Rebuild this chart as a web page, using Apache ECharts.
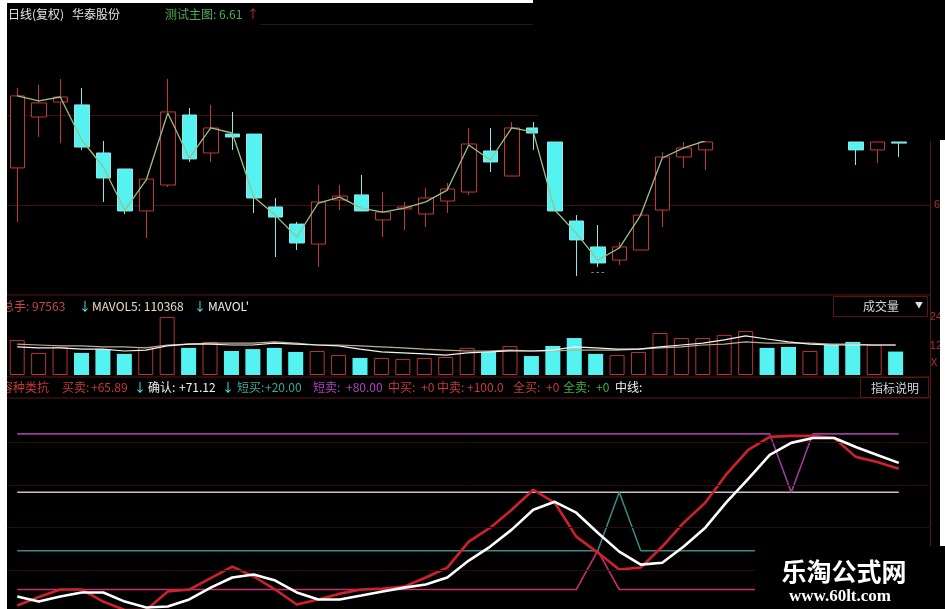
<!DOCTYPE html>
<html><head><meta charset="utf-8">
<script src="https://cdn.jsdelivr.net/npm/echarts@6/dist/echarts.min.js"></script>
<style>html,body{margin:0;padding:0;background:#000;}#c{width:945px;height:609px;}</style>
</head><body><div id="c"></div>
<script>
// ---------- DATA ----------
const days = ['D01','D02','D03','D04','D05','D06','D07','D08','D09','D10','D11','D12','D13','D14','D15','D16','D17','D18','D19','D20','D21','D22','D23','D24','D25','D26','D27','D28','D29','D30','D31','D32','D33','D34','D35','D36','D37','D38','D39','D40','D41','D42','D43'];
const openP  = [6.206,6.489,6.572,6.556,6.289,6.200,5.967,6.111,6.500,6.289,6.394,6.394,5.989,5.894,5.783,6.028,6.056,5.917,5.978,5.950,6.022,6.072,6.300,6.161,6.428,6.350,5.911,5.767,5.694,5.750,5.972,6.267,6.306,null,null,null,null,null,null,6.350,6.306,6.350];
const closeP = [6.606,6.567,6.600,6.322,6.150,5.967,6.144,6.517,6.256,6.428,6.378,6.039,5.933,5.789,6.017,6.050,5.967,5.961,5.989,6.039,6.089,6.339,6.239,6.428,6.400,5.967,5.806,5.678,5.767,5.944,6.267,6.317,6.350,null,null,null,null,null,null,6.306,6.350,6.344];
const lowP   = [5.906,6.378,6.344,6.306,6.017,5.950,5.817,6.100,6.239,6.239,6.306,5.956,5.711,5.750,5.656,5.972,5.967,5.822,5.861,5.878,5.956,6.056,6.183,6.161,6.306,5.967,5.606,5.656,5.667,5.750,5.878,6.206,6.194,null,null,null,null,null,null,6.222,6.233,6.267];
const highP  = [6.650,6.667,6.700,6.650,6.356,6.200,6.144,6.700,6.539,6.556,6.517,6.394,6.039,5.906,6.111,6.111,6.167,6.072,6.017,6.094,6.122,6.428,6.428,6.461,6.461,6.350,5.944,5.889,5.794,5.956,6.294,6.350,6.350,null,null,null,null,null,null,6.350,6.350,6.350];
const testLine = [6.606,6.578,6.600,6.361,6.211,5.972,6.139,6.511,6.261,6.428,6.400,6.044,5.944,5.822,6.011,6.044,5.983,5.961,5.983,6.017,6.083,6.333,6.250,6.428,6.406,5.972,5.844,5.694,5.761,5.944,6.261,6.317,6.356,null,null,null,null,null,null,null,null,null];

const volume = [14.6,9.2,11.7,9.2,10.8,8.8,11.7,24.2,11.3,13.8,10.0,10.8,11.3,9.6,10.0,8.3,7.1,7.1,6.7,7.1,7.5,11.3,9.6,12.1,7.9,12.1,15.4,8.8,8.3,9.6,17.5,15.4,15.4,16.7,18.3,11.3,11.7,10.0,12.5,13.8,12.5,9.76];
const volUp  = [1,1,1,0,0,0,1,1,0,1,0,0,0,0,1,1,0,1,1,1,1,1,0,1,0,0,0,0,1,1,1,1,1,1,1,0,0,1,0,0,1,0];
const mavol5  = [11.7,11.3,11.3,10.8,10.8,10.0,10.4,12.1,12.9,12.9,12.5,12.5,13.3,12.9,12.5,12.1,10.8,9.6,9.2,8.8,8.3,9.2,9.6,10.0,10.0,10.4,11.7,11.3,10.8,10.8,11.7,12.5,13.3,14.6,16.3,15.0,13.8,12.9,12.5,12.5,12.5,12.5];
const mavol10 = [12.9,12.5,12.1,12.1,11.7,11.7,11.3,12.5,12.9,13.3,13.3,13.3,13.8,13.3,12.5,12.5,12.1,11.7,11.3,10.8,10.4,10.0,10.0,10.4,10.0,10.0,10.4,10.4,10.4,10.8,11.3,11.7,12.5,12.9,13.8,13.3,13.3,13.3,12.9,12.9,12.5,12.5];
const volTicks = [12, 24];

const maiMai = [-8.2,-3.8,0,0,-6.2,-10.5,-10.5,-1.0,0,5.9,11.8,6.7,0,-7.7,-5.1,-2.1,0,0.5,1.5,6.2,11.3,24.6,31.8,41.0,51.3,44.6,27.2,19.0,10.3,11.3,22.1,34.4,44.6,59.5,71.8,78.5,79.0,79.0,77.9,68.2,65.6,62.1];
const queRen = [-3.6,-6.2,-3.6,-1.5,-1.5,-6.2,-9.2,-8.7,-5.1,1.0,6.2,7.7,4.6,-1.5,-5.1,-5.1,-3.1,-1.0,1.0,2.6,6.2,14.9,22.1,30.8,41.0,45.1,39.5,29.2,19.5,12.8,13.8,22.1,31.8,45.1,56.9,69.2,75.4,77.9,77.9,73.3,69.2,65.1];
const duanMai  = [20,20,20,20,20,20,20,20,20,20,20,20,20,20,20,20,20,20,20,20,20,20,20,20,20,20,20,20,50,20,20,20,20,20,20,20,20,20,20,20,20,20];
const duanMaiC = [80,80,80,80,80,80,80,80,80,80,80,80,80,80,80,80,80,80,80,80,80,80,80,80,80,80,80,80,80,80,80,80,80,80,80,80,50,80,80,80,80,80];
const zhongMai = [0,0,0,0,0,0,0,0,0,0,0,0,0,0,0,0,0,0,0,0,0,0,0,0,0,0,0,20,0,0,0,0,0,0,0,0,0,0,0,0,0,0];
const zhongXian = [50,50,50,50,50,50,50,50,50,50,50,50,50,50,50,50,50,50,50,50,50,50,50,50,50,50,50,50,50,50,50,50,50,50,50,50,50,50,50,50,50,50];
const indGuides = [75.9, 53.8, 31.8, 9.7];

// ---------- BUILD ----------
const dash = v => (v == null ? '-' : v);
const candleData = openP.map((o, i) => o == null ? ['-','-','-','-'] : [o, closeP[i], lowP[i], highP[i]]);
const RED = '#c0363a', CYAN = '#55f2f2', AX = '#5a1616';
const volData = volume.map((v, i) => ({
  value: v,
  itemStyle: volUp[i] ? {color:'#000', borderColor:'#b83434', borderWidth:1} : {color:CYAN, borderWidth:0}
}));
const F = '"Noto Sans CJK SC", "Noto Sans", sans-serif';
function T(x, y, text, fill, size, extra) {
  return Object.assign({type:'text', x:x, y:y, z:60,
    style:{text:text, fill:fill, font:(size||12)+'px '+F, textVerticalAlign:'middle'}}, extra||{});
}
function R(x, y, w, h, fill, z, stroke) {
  const st = {fill:fill};
  if (stroke) { st.stroke = stroke; st.lineWidth = 1; }
  return {type:'rect', z:z, shape:{x:x, y:y, width:w, height:h}, style:st};
}
const xAx = g => ({type:'category', gridIndex:g, data:days, boundaryGap:true,
  axisLine:{show:false}, axisTick:{show:false}, axisLabel:{show:false}, splitLine:{show:false}});

const graphic = [
  // panel separators / frame
  R(7, 294.5, 924, 1, AX, 1),
  R(7, 376.5, 924, 1, AX, 1),
  R(7, 397.5, 924, 1, AX, 1),
  R(930, 140, 1, 469, AX, 1),
  R(260, 24, 273, 1, '#1c1c1c', 1),
  // blanked upper right
  R(538, 3, 407, 138, '#000', 50),
  // white margins
  R(0, 0, 533, 3, '#fff', 90),
  R(0, 0, 7, 609, '#fff', 90),
  R(940, 140, 5, 406, '#fff', 90),
  // header price
  T(8, 14, '日线(复权)', '#e4e4e4'),
  T(72, 14, '华泰股份', '#e4e4e4'),
  T(165, 14, '测试主图: 6.61', '#4fae52'),
  T(247, 14, '↑', '#d83030'),
  T(591, 272, '- - -', '#cfcfcf', 9),
  // volume header
  T(2, 306, '总手: 97563', '#c84646'),
  T(79, 306, '↓', CYAN),
  T(92, 306, 'MAVOL5: 110368', '#e8dcc6'),
  T(194, 306, '↓', CYAN),
  T(208, 306, "MAVOL'", '#f0f0f0'),
  R(833.5, 296.5, 94, 20, '#000', 55, AX),
  T(863, 306, '成交量', '#d6d6d6'),
  T(915, 305, '▼', '#e0e0e0', 8),
  T(931, 362, 'X', '#b03030', 11),
  // indicator header
  T(1, 387, '容种类抗', '#c83838'),
  T(62, 387, '买卖:', '#c83838'),
  T(91, 387, '+65.89', '#c83838'),
  T(134, 387, '↓', CYAN),
  T(148, 387, '确认:', '#f0f0f0'),
  T(179, 387, '+71.12', '#f0f0f0'),
  T(222, 387, '↓', CYAN),
  T(237, 387, '短买:', '#3aa898'),
  T(265, 387, '+20.00', '#3aa898'),
  T(313, 387, '短卖:', '#b040c0'),
  T(346, 387, '+80.00', '#b040c0'),
  T(388, 387, '中买:', '#c83838'),
  T(421, 387, '+0', '#c83838'),
  T(437, 387, '中卖:', '#c83838'),
  T(467, 387, '+100.0', '#c83838'),
  T(513, 387, '全买:', '#c83838'),
  T(546, 387, '+0', '#c83838'),
  T(563, 387, '全卖:', '#40b040'),
  T(596, 387, '+0', '#40b040'),
  T(615, 387, '中线:', '#f0f0f0'),
  R(860.5, 377.5, 68, 20, '#000', 55, AX),
  T(871, 388, '指标说明', '#d6d6d6'),
  // watermark
  R(755, 546, 190, 63, '#000', 80),
  {type:'text', z:85, x:844, y:571, style:{text:'乐淘公式网', fill:'#fff', font:'bold 25px '+F, textAlign:'center', textVerticalAlign:'middle'}},
  {type:'text', z:85, x:840, y:597, style:{text:'www.60lt.com', fill:'#fff', font:'bold 17px "Liberation Serif", "DejaVu Serif", serif', textAlign:'center', textVerticalAlign:'middle'}}
];

const option = {
  backgroundColor:'#000',
  animation:false,
  grid:[
    {left:6.5, width:924.5, top:70, height:225},
    {left:6.5, width:924.5, top:303, height:72},
    {left:6.5, width:924.5, top:395, height:214.5}
  ],
  xAxis:[xAx(0), xAx(1), xAx(2)],
  yAxis:[
    {type:'value', gridIndex:0, position:'right', min:5.5, max:6.75, interval:0.5,
      axisLine:{show:false}, axisTick:{show:false},
      axisLabel:{color:'#b03030', fontSize:11, margin:3, formatter:v => (Math.abs(v-6)<1e-9 ? '6' : '')},
      splitLine:{show:true, showMaxLine:false, showMinLine:false, lineStyle:{color:'#3e1111', width:1}}},
    {type:'value', gridIndex:1, position:'right', min:0, max:30, interval:12,
      axisLine:{show:false}, axisTick:{show:false}, splitLine:{show:false},
      axisLabel:{color:'#b03030', fontSize:11, margin:2, formatter:v => (volTicks.indexOf(v) >= 0 ? String(v) : '')}},
    {type:'value', gridIndex:2, position:'right', min:-10, max:100,
      axisLine:{show:false}, axisTick:{show:false}, splitLine:{show:false}, axisLabel:{show:false}}
  ],
  series:[
    {type:'candlestick', xAxisIndex:0, yAxisIndex:0, data:candleData, barWidth:15, z:3,
      itemStyle:{color:'#000', color0:CYAN, borderColor:RED, borderColor0:'#8ee8e8', borderWidth:1}},
    {type:'line', xAxisIndex:0, yAxisIndex:0, data:testLine.map(dash), symbol:'none', z:4,
      lineStyle:{color:'#9cbf86', width:1.3}},
    {type:'bar', xAxisIndex:1, yAxisIndex:1, data:volData, barWidth:15, z:3},
    {type:'line', xAxisIndex:1, yAxisIndex:1, data:mavol10, symbol:'none', z:4,
      lineStyle:{color:'#bfae8e', width:1.2}},
    {type:'line', xAxisIndex:1, yAxisIndex:1, data:mavol5, symbol:'none', z:5,
      lineStyle:{color:'#f2f2f2', width:1.2}},
    {type:'line', xAxisIndex:2, yAxisIndex:2, data:zhongXian, symbol:'none', z:3,
      lineStyle:{color:'#c4c4c4', width:1.5},
      markLine:{silent:true, symbol:'none', label:{show:false},
        lineStyle:{color:'#2e0c0c', type:'solid', width:1},
        data:indGuides.map(v => ({yAxis:v}))}},
    {type:'line', xAxisIndex:2, yAxisIndex:2, data:duanMai, symbol:'none', z:3,
      lineStyle:{color:'#3b8c88', width:1.5}},
    {type:'line', xAxisIndex:2, yAxisIndex:2, data:zhongMai, symbol:'none', z:3,
      lineStyle:{color:'#c8306e', width:1.6}},
    {type:'line', xAxisIndex:2, yAxisIndex:2, data:duanMaiC, symbol:'none', z:3,
      lineStyle:{color:'#9c3c9c', width:1.6}},
    {type:'line', xAxisIndex:2, yAxisIndex:2, data:maiMai, symbol:'none', z:4,
      lineStyle:{color:'#d0202c', width:2.6}},
    {type:'line', xAxisIndex:2, yAxisIndex:2, data:queRen, symbol:'none', z:5,
      lineStyle:{color:'#ffffff', width:2.6}}
  ],
  graphic: graphic
};
echarts.init(document.getElementById('c'), null, {renderer:'canvas'}).setOption(option);
</script></body></html>
